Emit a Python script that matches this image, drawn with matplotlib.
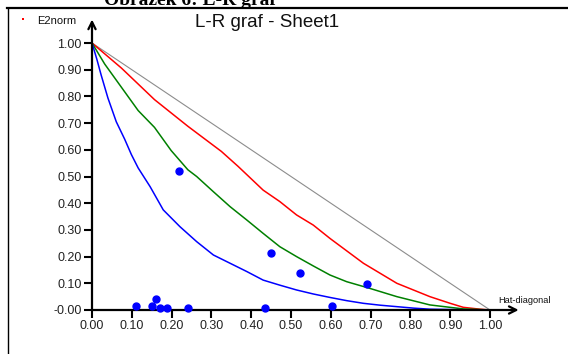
import matplotlib
matplotlib.use("Agg")
import matplotlib.pyplot as plt
from matplotlib.lines import Line2D

# ---- data ----
blue_x = [0, 0.012, 0.023, 0.040, 0.061, 0.082, 0.099, 0.116, 0.146, 0.179, 0.221, 0.263,
          0.305, 0.347, 0.389, 0.430, 0.472, 0.514, 0.556, 0.598, 0.640, 0.682, 0.724,
          0.766, 0.808, 0.849, 0.891, 0.933, 1.0]
blue_y = [1, 0.94, 0.880, 0.794, 0.705, 0.640, 0.582, 0.532, 0.462, 0.375, 0.312, 0.256,
          0.206, 0.175, 0.144, 0.112, 0.093, 0.075, 0.060, 0.047, 0.035, 0.025, 0.018,
          0.0125, 0.007, 0.003, 0.002, 0.001, 0]

green_x = [0, 0.032, 0.074, 0.116, 0.157, 0.199, 0.241, 0.263, 0.305, 0.347, 0.389, 0.430,
           0.472, 0.514, 0.556, 0.598, 0.640, 0.698, 0.766, 0.849, 0.933, 0.97, 1.0]
green_y = [1, 0.921, 0.834, 0.747, 0.684, 0.597, 0.525, 0.500, 0.443, 0.387, 0.337, 0.287,
           0.237, 0.200, 0.165, 0.131, 0.106, 0.081, 0.050, 0.019, 0.004, 0.002, 0]

red_x = [0, 0.074, 0.157, 0.241, 0.325, 0.367, 0.430, 0.472, 0.514, 0.556, 0.598, 0.682,
         0.766, 0.849, 0.900, 0.933, 0.975, 1.0]
red_y = [1, 0.906, 0.788, 0.688, 0.594, 0.538, 0.449, 0.406, 0.356, 0.318, 0.268, 0.175,
         0.100, 0.050, 0.025, 0.010, 0.003, 0]

diag_x = [0, 1]
diag_y = [1, 0]

pts_x = [0.219, 0.451, 0.523, 0.692, 0.110, 0.152, 0.162, 0.171, 0.189, 0.242, 0.434, 0.604]
pts_y = [0.521, 0.215, 0.140, 0.096, 0.016, 0.016, 0.041, 0.009, 0.009, 0.009, 0.009, 0.015]

ticks = [0.0, 0.1, 0.2, 0.3, 0.4, 0.5, 0.6, 0.7, 0.8, 0.9, 1.0]
xtick_labels = ["0.00", "0.10", "0.20", "0.30", "0.40", "0.50", "0.60", "0.70", "0.80", "0.90", "1.00"]
ytick_labels = ["-0.00", "0.10", "0.20", "0.30", "0.40", "0.50", "0.60", "0.70", "0.80", "0.90", "1.00"]

title_fig = "Obrázek 6: L-R graf"
title_chart = "L-R graf - Sheet1"
ylabel = "E2norm"
xlabel = "Hat-diagonal"

# ---- figure ----
W, H = 568, 354
plt.rcParams['font.family'] = ['Liberation Sans', 'DejaVu Sans']
fig = plt.figure(figsize=(W / 100, H / 100), dpi=100)
ax = fig.add_axes([92 / W, 44 / H, 398 / W, 267 / H])
ax.set_xlim(0, 1)
ax.set_ylim(0, 1)
for s in ax.spines.values():
    s.set_visible(False)

ax.plot(diag_x, diag_y, color='#8c8c8c', lw=0.8, zorder=2)
ax.plot(red_x, red_y, color='#ff0000', lw=1.1, zorder=3)
ax.plot(green_x, green_y, color='#008000', lw=1.1, zorder=3)
ax.plot(blue_x, blue_y, color='#0000ff', lw=1.1, zorder=3)
ax.plot(pts_x, pts_y, 'o', color='#0000ff', ms=5, mec='#0000ff', zorder=5, clip_on=False)

ax.set_xticks(ticks)
ax.set_xticklabels(xtick_labels)
ax.set_yticks(ticks)
ax.set_yticklabels(ytick_labels)
ax.tick_params(direction='out', length=6, width=1.5, colors='black', labelsize=9, pad=1.5)
for lab in ax.get_xticklabels() + ax.get_yticklabels():
    lab.set_color('#222222')

# axes arrows
arrow_kw = dict(arrowstyle='->', lw=1.6, color='black', mutation_scale=13, shrinkA=0, shrinkB=0)
ax.annotate('', xy=(0, 1.088), xytext=(0, 0), xycoords='data', textcoords='data',
            arrowprops=arrow_kw, annotation_clip=False)
ax.annotate('', xy=(1.072, 0), xytext=(0, 0), xycoords='data', textcoords='data',
            arrowprops=arrow_kw, annotation_clip=False)

# texts
fig.text(190 / W, 1 - 5 / H, title_fig, ha='center', va='baseline', fontsize=14,
         fontweight='bold', family='Liberation Serif')
fig.text(267 / W, 1 - 27 / H, title_chart, ha='center', va='baseline', fontsize=13.5,
         color='#111111')
fig.text(37 / W, 1 - 24 / H, ylabel, ha='left', va='baseline', fontsize=8, color='#111111')
fig.add_artist(Line2D([23 / W], [1 - 19 / H], marker='s', ms=1.6, mew=0, color='red', lw=0,
                      transform=fig.transFigure))
fig.text(498 / W, 1 - 303 / H, xlabel, ha='left', va='baseline', fontsize=6.7, color='#111111')

# frame lines
fig.add_artist(Line2D([7 / W, 1], [1 - 8 / H, 1 - 8 / H], color='black', lw=1.6,
                      transform=fig.transFigure))
fig.add_artist(Line2D([7.5 / W, 7.5 / W], [0, 1 - 8 / H], color='black', lw=1.0,
                      transform=fig.transFigure))

fig.savefig('out.png', dpi=100)
